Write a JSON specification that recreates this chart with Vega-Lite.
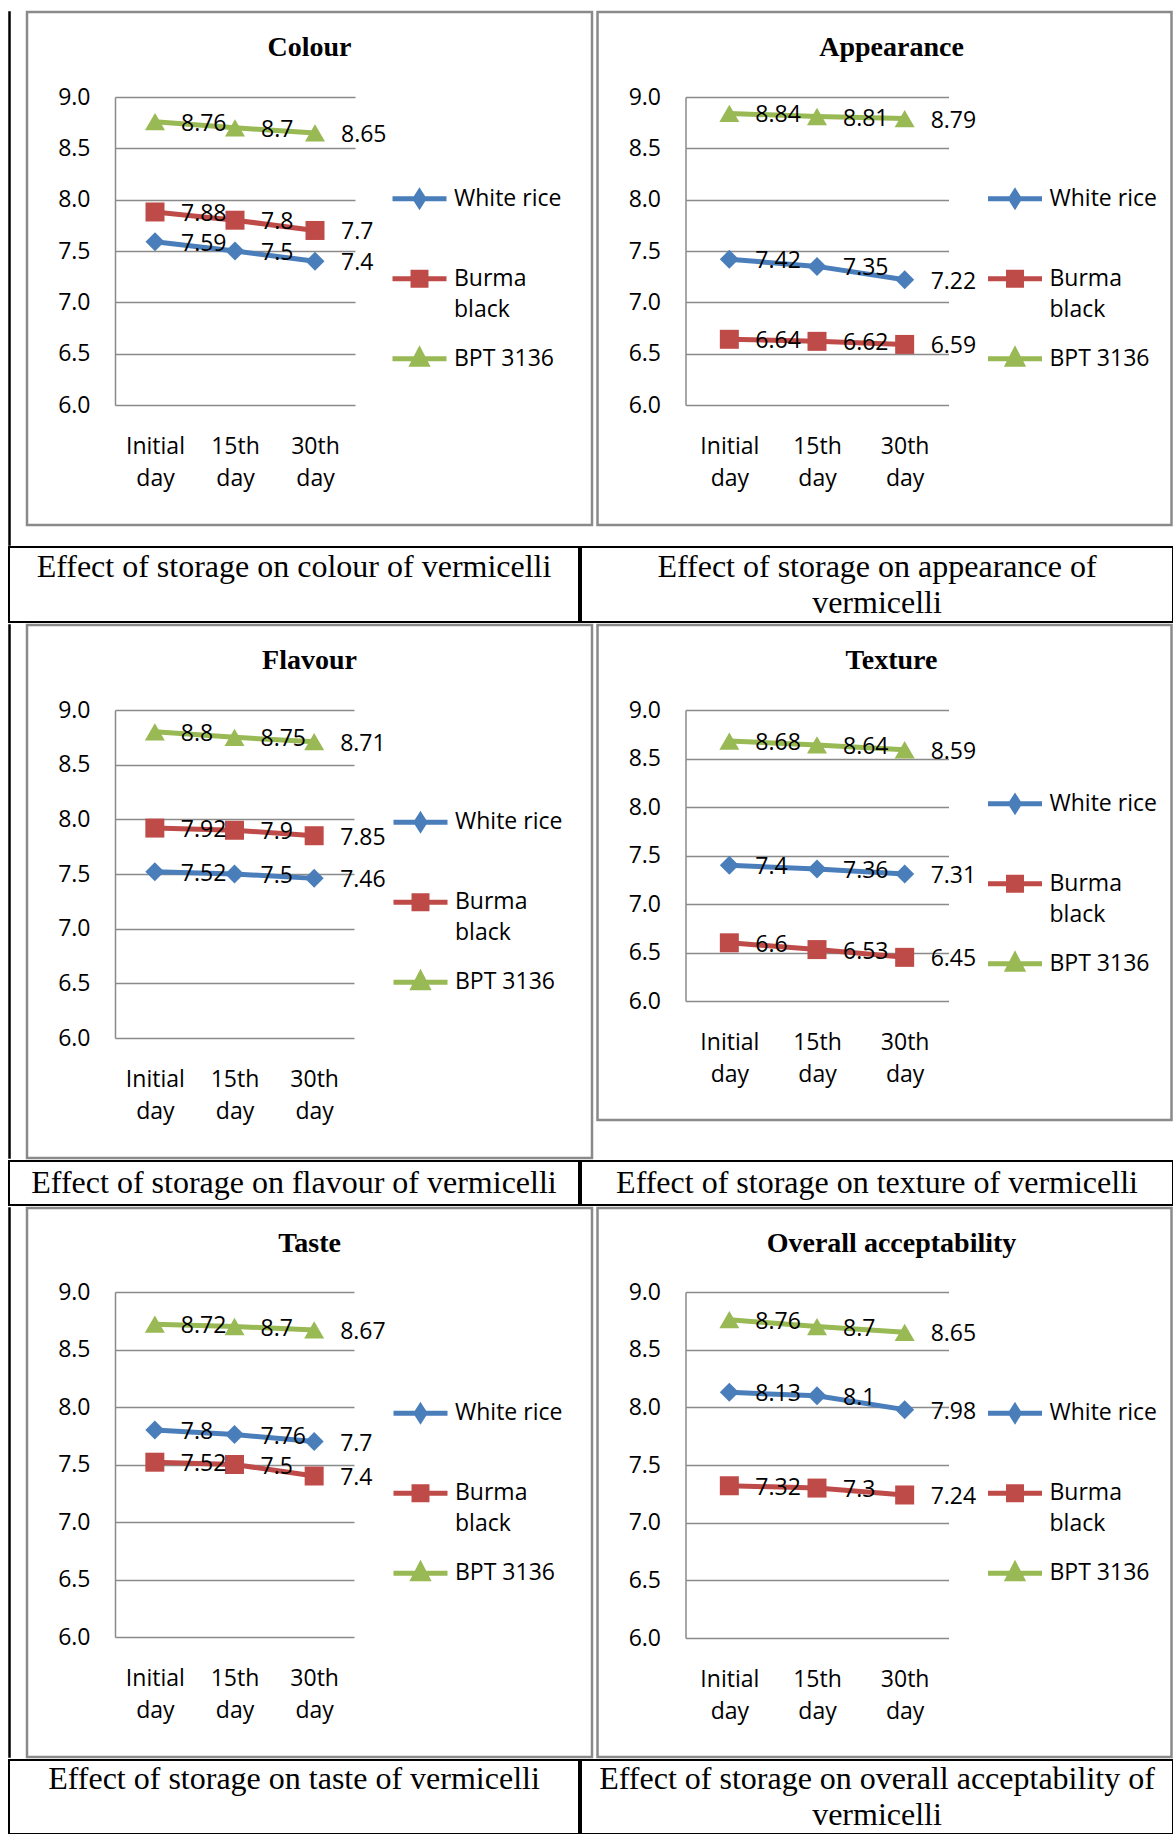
{
  "$schema": "https://vega.github.io/schema/vega-lite/v6.json",
  "padding": {"left": 8, "top": 10, "right": 0, "bottom": 0},
  "background": "white",
  "datasets": {
    "scores": [
      {"panel": "Colour", "series": "White rice", "day": "Initial day", "score": 7.59},
      {"panel": "Colour", "series": "White rice", "day": "15th day", "score": 7.5},
      {"panel": "Colour", "series": "White rice", "day": "30th day", "score": 7.4},
      {"panel": "Colour", "series": "Burma black", "day": "Initial day", "score": 7.88},
      {"panel": "Colour", "series": "Burma black", "day": "15th day", "score": 7.8},
      {"panel": "Colour", "series": "Burma black", "day": "30th day", "score": 7.7},
      {"panel": "Colour", "series": "BPT 3136", "day": "Initial day", "score": 8.76},
      {"panel": "Colour", "series": "BPT 3136", "day": "15th day", "score": 8.7},
      {"panel": "Colour", "series": "BPT 3136", "day": "30th day", "score": 8.65},
      {"panel": "Appearance", "series": "White rice", "day": "Initial day", "score": 7.42},
      {"panel": "Appearance", "series": "White rice", "day": "15th day", "score": 7.35},
      {"panel": "Appearance", "series": "White rice", "day": "30th day", "score": 7.22},
      {"panel": "Appearance", "series": "Burma black", "day": "Initial day", "score": 6.64},
      {"panel": "Appearance", "series": "Burma black", "day": "15th day", "score": 6.62},
      {"panel": "Appearance", "series": "Burma black", "day": "30th day", "score": 6.59},
      {"panel": "Appearance", "series": "BPT 3136", "day": "Initial day", "score": 8.84},
      {"panel": "Appearance", "series": "BPT 3136", "day": "15th day", "score": 8.81},
      {"panel": "Appearance", "series": "BPT 3136", "day": "30th day", "score": 8.79},
      {"panel": "Flavour", "series": "White rice", "day": "Initial day", "score": 7.52},
      {"panel": "Flavour", "series": "White rice", "day": "15th day", "score": 7.5},
      {"panel": "Flavour", "series": "White rice", "day": "30th day", "score": 7.46},
      {"panel": "Flavour", "series": "Burma black", "day": "Initial day", "score": 7.92},
      {"panel": "Flavour", "series": "Burma black", "day": "15th day", "score": 7.9},
      {"panel": "Flavour", "series": "Burma black", "day": "30th day", "score": 7.85},
      {"panel": "Flavour", "series": "BPT 3136", "day": "Initial day", "score": 8.8},
      {"panel": "Flavour", "series": "BPT 3136", "day": "15th day", "score": 8.75},
      {"panel": "Flavour", "series": "BPT 3136", "day": "30th day", "score": 8.71},
      {"panel": "Texture", "series": "White rice", "day": "Initial day", "score": 7.4},
      {"panel": "Texture", "series": "White rice", "day": "15th day", "score": 7.36},
      {"panel": "Texture", "series": "White rice", "day": "30th day", "score": 7.31},
      {"panel": "Texture", "series": "Burma black", "day": "Initial day", "score": 6.6},
      {"panel": "Texture", "series": "Burma black", "day": "15th day", "score": 6.53},
      {"panel": "Texture", "series": "Burma black", "day": "30th day", "score": 6.45},
      {"panel": "Texture", "series": "BPT 3136", "day": "Initial day", "score": 8.68},
      {"panel": "Texture", "series": "BPT 3136", "day": "15th day", "score": 8.64},
      {"panel": "Texture", "series": "BPT 3136", "day": "30th day", "score": 8.59},
      {"panel": "Taste", "series": "White rice", "day": "Initial day", "score": 7.8},
      {"panel": "Taste", "series": "White rice", "day": "15th day", "score": 7.76},
      {"panel": "Taste", "series": "White rice", "day": "30th day", "score": 7.7},
      {"panel": "Taste", "series": "Burma black", "day": "Initial day", "score": 7.52},
      {"panel": "Taste", "series": "Burma black", "day": "15th day", "score": 7.5},
      {"panel": "Taste", "series": "Burma black", "day": "30th day", "score": 7.4},
      {"panel": "Taste", "series": "BPT 3136", "day": "Initial day", "score": 8.72},
      {"panel": "Taste", "series": "BPT 3136", "day": "15th day", "score": 8.7},
      {"panel": "Taste", "series": "BPT 3136", "day": "30th day", "score": 8.67},
      {"panel": "Overall acceptability", "series": "White rice", "day": "Initial day", "score": 8.13},
      {"panel": "Overall acceptability", "series": "White rice", "day": "15th day", "score": 8.1},
      {"panel": "Overall acceptability", "series": "White rice", "day": "30th day", "score": 7.98},
      {"panel": "Overall acceptability", "series": "Burma black", "day": "Initial day", "score": 7.32},
      {"panel": "Overall acceptability", "series": "Burma black", "day": "15th day", "score": 7.3},
      {"panel": "Overall acceptability", "series": "Burma black", "day": "30th day", "score": 7.24},
      {"panel": "Overall acceptability", "series": "BPT 3136", "day": "Initial day", "score": 8.76},
      {"panel": "Overall acceptability", "series": "BPT 3136", "day": "15th day", "score": 8.7},
      {"panel": "Overall acceptability", "series": "BPT 3136", "day": "30th day", "score": 8.65}
    ],
    "captions": [
      {"cell": "c1", "text": "Effect of storage on colour of vermicelli"},
      {"cell": "c2", "text": "Effect of storage on appearance of\nvermicelli"},
      {"cell": "c3", "text": "Effect of storage on flavour of vermicelli"},
      {"cell": "c4", "text": "Effect of storage on texture of vermicelli"},
      {"cell": "c5", "text": "Effect of storage on taste of vermicelli"},
      {"cell": "c6", "text": "Effect of storage on overall acceptability of\nvermicelli"}
    ]
  },
  "spacing": 0,
  "resolve": {"scale": {"color": "independent"}},
  "vconcat": [
    {
      "spacing": 0,
      "resolve": {"scale": {"color": "independent"}},
      "vconcat": [
        {
          "spacing": 14,
          "resolve": {"scale": {"color": "independent"}},
          "hconcat": [
            {"width": 1, "height": 533, "data": {"values": [{}]}, "mark": {"type": "text", "text": ""}, "view": {"stroke": "black", "strokeWidth": 1.5}},
            {
              "spacing": 1.5,
              "resolve": {"scale": {"color": "independent"}},
              "hconcat": [
                {
                  "width": 565, "height": 513,
                  "data": {"name": "scores"},
                  "transform": [{"filter": "datum.panel === 'Colour'"}],
                  "title": {"text": "Colour"},
                  "encoding": {
                    "x": {"field": "day", "type": "nominal", "sort": ["Initial day", "15th day", "30th day"], "scale": {"type": "point", "padding": 0.5, "range": [88, 328]}, "axis": {"orient": "bottom", "offset": -120, "title": null, "domain": false, "ticks": false, "grid": false, "labelAngle": 0, "labelPadding": 30, "labelExpr": "split(datum.label, ' ')", "labelLineHeight": 32}},
                    "y": {"field": "score", "type": "quantitative", "scale": {"domain": [6, 9], "range": [393, 85], "nice": false, "zero": false}, "axis": {"offset": -88, "values": [6, 6.5, 7, 7.5, 8, 8.5, 9], "format": ".1f", "title": null, "ticks": false, "labelPadding": 25, "grid": true}},
                    "color": {"field": "series", "type": "nominal", "scale": {"domain": ["White rice", "Burma black", "BPT 3136"], "range": ["#4A7EBB", "#BE4B48", "#98B954"]},
                      "legend": {"title": null, "orient": "none", "legendX": 363, "legendY": 157.25, "labelExpr": "datum.value === 'Burma black' ? ['Burma', 'black'] : datum.value === 'White rice' ? ['White rice', ''] : datum.label",
                        "encode": {"symbols": {"update": {"shape": {"signal": "datum.value === 'White rice' ? 'M-1,0H1M0,-0.25L0.16,0L0,0.25L-0.16,0Z' : datum.value === 'Burma black' ? 'M-1,0H1M-0.24,-0.24H0.24V0.24H-0.24Z' : 'M-1,0H1M0,-0.3L0.26,0.2L-0.26,0.2Z'"}, "fill": {"signal": "datum.value === 'White rice' ? '#4A7EBB' : datum.value === 'Burma black' ? '#BE4B48' : '#98B954'"}, "stroke": {"signal": "datum.value === 'White rice' ? '#4A7EBB' : datum.value === 'Burma black' ? '#BE4B48' : '#98B954'"}, "strokeWidth": {"value": 5}, "size": {"value": 2916}, "opacity": {"value": 1}, "fillOpacity": {"value": 1}, "strokeOpacity": {"value": 1}}},
                          "labels": {"update": {"lineHeight": {"value": 31}}}}}}
                  },
                  "layer": [
                    {"mark": {"type": "line", "strokeWidth": 5}},
                    {"transform": [{"filter": "datum.series === 'White rice'"}], "mark": {"type": "point", "shape": "diamond", "filled": true, "opacity": 1, "size": 361}},
                    {"transform": [{"filter": "datum.series === 'Burma black'"}], "mark": {"type": "point", "shape": "square", "filled": true, "opacity": 1, "size": 361}},
                    {"transform": [{"filter": "datum.series === 'BPT 3136'"}], "mark": {"type": "point", "shape": "triangle-up", "filled": true, "opacity": 1, "size": 400}},
                    {"mark": {"type": "text", "align": "left", "baseline": "middle", "dx": 26, "dy": 2, "fontSize": 23, "font": "Open Sans"}, "encoding": {"text": {"field": "score", "type": "quantitative", "format": "~g"}, "color": {"value": "black"}}}
                  ]
                },
                {
                  "width": 574, "height": 513,
                  "data": {"name": "scores"},
                  "transform": [{"filter": "datum.panel === 'Appearance'"}],
                  "title": {"text": "Appearance", "dx": 7},
                  "encoding": {
                    "x": {"field": "day", "type": "nominal", "sort": ["Initial day", "15th day", "30th day"], "scale": {"type": "point", "padding": 0.5, "range": [88, 351]}, "axis": {"orient": "bottom", "offset": -120, "title": null, "domain": false, "ticks": false, "grid": false, "labelAngle": 0, "labelPadding": 30, "labelExpr": "split(datum.label, ' ')", "labelLineHeight": 32}},
                    "y": {"field": "score", "type": "quantitative", "scale": {"domain": [6, 9], "range": [393, 85], "nice": false, "zero": false}, "axis": {"offset": -88, "values": [6, 6.5, 7, 7.5, 8, 8.5, 9], "format": ".1f", "title": null, "ticks": false, "labelPadding": 25, "grid": true}},
                    "color": {"field": "series", "type": "nominal", "scale": {"domain": ["White rice", "Burma black", "BPT 3136"], "range": ["#4A7EBB", "#BE4B48", "#98B954"]},
                      "legend": {"title": null, "orient": "none", "legendX": 388, "legendY": 157.25, "labelExpr": "datum.value === 'Burma black' ? ['Burma', 'black'] : datum.value === 'White rice' ? ['White rice', ''] : datum.label",
                        "encode": {"symbols": {"update": {"shape": {"signal": "datum.value === 'White rice' ? 'M-1,0H1M0,-0.25L0.16,0L0,0.25L-0.16,0Z' : datum.value === 'Burma black' ? 'M-1,0H1M-0.24,-0.24H0.24V0.24H-0.24Z' : 'M-1,0H1M0,-0.3L0.26,0.2L-0.26,0.2Z'"}, "fill": {"signal": "datum.value === 'White rice' ? '#4A7EBB' : datum.value === 'Burma black' ? '#BE4B48' : '#98B954'"}, "stroke": {"signal": "datum.value === 'White rice' ? '#4A7EBB' : datum.value === 'Burma black' ? '#BE4B48' : '#98B954'"}, "strokeWidth": {"value": 5}, "size": {"value": 2916}, "opacity": {"value": 1}, "fillOpacity": {"value": 1}, "strokeOpacity": {"value": 1}}},
                          "labels": {"update": {"lineHeight": {"value": 31}}}}}}
                  },
                  "layer": [
                    {"mark": {"type": "line", "strokeWidth": 5}},
                    {"transform": [{"filter": "datum.series === 'White rice'"}], "mark": {"type": "point", "shape": "diamond", "filled": true, "opacity": 1, "size": 361}},
                    {"transform": [{"filter": "datum.series === 'Burma black'"}], "mark": {"type": "point", "shape": "square", "filled": true, "opacity": 1, "size": 361}},
                    {"transform": [{"filter": "datum.series === 'BPT 3136'"}], "mark": {"type": "point", "shape": "triangle-up", "filled": true, "opacity": 1, "size": 400}},
                    {"mark": {"type": "text", "align": "left", "baseline": "middle", "dx": 26, "dy": 2, "fontSize": 23, "font": "Open Sans"}, "encoding": {"text": {"field": "score", "type": "quantitative", "format": "~g"}, "color": {"value": "black"}}}
                  ]
                }
              ]
            }
          ]
        },
        {
          "spacing": 0,
          "hconcat": [
            {"width": 570, "height": 75, "data": {"name": "captions"}, "transform": [{"filter": "datum.cell === 'c1'"}], "mark": {"type": "text", "font": "Liberation Serif", "fontSize": 32, "lineHeight": 36, "lineBreak": "\n", "baseline": "middle", "dy": -18, "color": "black"}, "encoding": {"text": {"field": "text", "type": "nominal"}}, "view": {"stroke": "black", "strokeWidth": 2}},
            {"width": 592, "height": 75, "data": {"name": "captions"}, "transform": [{"filter": "datum.cell === 'c2'"}], "mark": {"type": "text", "font": "Liberation Serif", "fontSize": 32, "lineHeight": 36, "lineBreak": "\n", "baseline": "middle", "dy": -18, "color": "black"}, "encoding": {"text": {"field": "text", "type": "nominal"}}, "view": {"stroke": "black", "strokeWidth": 2}}
          ]
        }
      ]
    },
    {
      "spacing": 14,
      "resolve": {"scale": {"color": "independent"}},
      "hconcat": [
        {"width": 1, "height": 533, "data": {"values": [{}]}, "mark": {"type": "text", "text": ""}, "view": {"stroke": "black", "strokeWidth": 1.5}},
        {
          "spacing": 1.5,
          "resolve": {"scale": {"color": "independent"}},
          "hconcat": [
            {
              "width": 565, "height": 533,
              "data": {"name": "scores"},
              "transform": [{"filter": "datum.panel === 'Flavour'"}],
              "title": {"text": "Flavour"},
              "encoding": {
                "x": {"field": "day", "type": "nominal", "sort": ["Initial day", "15th day", "30th day"], "scale": {"type": "point", "padding": 0.5, "range": [88, 327]}, "axis": {"orient": "bottom", "offset": -120, "title": null, "domain": false, "ticks": false, "grid": false, "labelAngle": 0, "labelPadding": 30, "labelExpr": "split(datum.label, ' ')", "labelLineHeight": 32}},
                "y": {"field": "score", "type": "quantitative", "scale": {"domain": [6, 9], "range": [413, 85], "nice": false, "zero": false}, "axis": {"offset": -88, "values": [6, 6.5, 7, 7.5, 8, 8.5, 9], "format": ".1f", "title": null, "ticks": false, "labelPadding": 25, "grid": true}},
                "color": {"field": "series", "type": "nominal", "scale": {"domain": ["White rice", "Burma black", "BPT 3136"], "range": ["#4A7EBB", "#BE4B48", "#98B954"]},
                  "legend": {"title": null, "orient": "none", "legendX": 364, "legendY": 167.75, "labelExpr": "datum.value === 'Burma black' ? ['Burma', 'black'] : datum.value === 'White rice' ? ['White rice', ''] : datum.label",
                    "encode": {"symbols": {"update": {"shape": {"signal": "datum.value === 'White rice' ? 'M-1,0H1M0,-0.25L0.16,0L0,0.25L-0.16,0Z' : datum.value === 'Burma black' ? 'M-1,0H1M-0.24,-0.24H0.24V0.24H-0.24Z' : 'M-1,0H1M0,-0.3L0.26,0.2L-0.26,0.2Z'"}, "fill": {"signal": "datum.value === 'White rice' ? '#4A7EBB' : datum.value === 'Burma black' ? '#BE4B48' : '#98B954'"}, "stroke": {"signal": "datum.value === 'White rice' ? '#4A7EBB' : datum.value === 'Burma black' ? '#BE4B48' : '#98B954'"}, "strokeWidth": {"value": 5}, "size": {"value": 2916}, "opacity": {"value": 1}, "fillOpacity": {"value": 1}, "strokeOpacity": {"value": 1}}},
                      "labels": {"update": {"lineHeight": {"value": 31}}}}}}
              },
              "layer": [
                {"mark": {"type": "line", "strokeWidth": 5}},
                {"transform": [{"filter": "datum.series === 'White rice'"}], "mark": {"type": "point", "shape": "diamond", "filled": true, "opacity": 1, "size": 361}},
                {"transform": [{"filter": "datum.series === 'Burma black'"}], "mark": {"type": "point", "shape": "square", "filled": true, "opacity": 1, "size": 361}},
                {"transform": [{"filter": "datum.series === 'BPT 3136'"}], "mark": {"type": "point", "shape": "triangle-up", "filled": true, "opacity": 1, "size": 400}},
                {"mark": {"type": "text", "align": "left", "baseline": "middle", "dx": 26, "dy": 2, "fontSize": 23, "font": "Open Sans"}, "encoding": {"text": {"field": "score", "type": "quantitative", "format": "~g"}, "color": {"value": "black"}}}
              ]
            },
            {
              "width": 574, "height": 495,
              "data": {"name": "scores"},
              "transform": [{"filter": "datum.panel === 'Texture'"}],
              "title": {"text": "Texture", "dx": 7},
              "encoding": {
                "x": {"field": "day", "type": "nominal", "sort": ["Initial day", "15th day", "30th day"], "scale": {"type": "point", "padding": 0.5, "range": [88, 351]}, "axis": {"orient": "bottom", "offset": -119, "title": null, "domain": false, "ticks": false, "grid": false, "labelAngle": 0, "labelPadding": 30, "labelExpr": "split(datum.label, ' ')", "labelLineHeight": 32}},
                "y": {"field": "score", "type": "quantitative", "scale": {"domain": [6, 9], "range": [376, 85], "nice": false, "zero": false}, "axis": {"offset": -88, "values": [6, 6.5, 7, 7.5, 8, 8.5, 9], "format": ".1f", "title": null, "ticks": false, "labelPadding": 25, "grid": true}},
                "color": {"field": "series", "type": "nominal", "scale": {"domain": ["White rice", "Burma black", "BPT 3136"], "range": ["#4A7EBB", "#BE4B48", "#98B954"]},
                  "legend": {"title": null, "orient": "none", "legendX": 388, "legendY": 149.35, "labelExpr": "datum.value === 'Burma black' ? ['Burma', 'black'] : datum.value === 'White rice' ? ['White rice', ''] : datum.label",
                    "encode": {"symbols": {"update": {"shape": {"signal": "datum.value === 'White rice' ? 'M-1,0H1M0,-0.25L0.16,0L0,0.25L-0.16,0Z' : datum.value === 'Burma black' ? 'M-1,0H1M-0.24,-0.24H0.24V0.24H-0.24Z' : 'M-1,0H1M0,-0.3L0.26,0.2L-0.26,0.2Z'"}, "fill": {"signal": "datum.value === 'White rice' ? '#4A7EBB' : datum.value === 'Burma black' ? '#BE4B48' : '#98B954'"}, "stroke": {"signal": "datum.value === 'White rice' ? '#4A7EBB' : datum.value === 'Burma black' ? '#BE4B48' : '#98B954'"}, "strokeWidth": {"value": 5}, "size": {"value": 2916}, "opacity": {"value": 1}, "fillOpacity": {"value": 1}, "strokeOpacity": {"value": 1}}},
                      "labels": {"update": {"lineHeight": {"value": 31}}}}}}
              },
              "layer": [
                {"mark": {"type": "line", "strokeWidth": 5}},
                {"transform": [{"filter": "datum.series === 'White rice'"}], "mark": {"type": "point", "shape": "diamond", "filled": true, "opacity": 1, "size": 361}},
                {"transform": [{"filter": "datum.series === 'Burma black'"}], "mark": {"type": "point", "shape": "square", "filled": true, "opacity": 1, "size": 361}},
                {"transform": [{"filter": "datum.series === 'BPT 3136'"}], "mark": {"type": "point", "shape": "triangle-up", "filled": true, "opacity": 1, "size": 400}},
                {"mark": {"type": "text", "align": "left", "baseline": "middle", "dx": 26, "dy": 2, "fontSize": 23, "font": "Open Sans"}, "encoding": {"text": {"field": "score", "type": "quantitative", "format": "~g"}, "color": {"value": "black"}}}
              ]
            }
          ]
        }
      ]
    },
    {
      "spacing": 0,
      "hconcat": [
        {"width": 570, "height": 44, "data": {"name": "captions"}, "transform": [{"filter": "datum.cell === 'c3'"}], "mark": {"type": "text", "font": "Liberation Serif", "fontSize": 32, "lineHeight": 36, "lineBreak": "\n", "baseline": "middle", "color": "black"}, "encoding": {"text": {"field": "text", "type": "nominal"}}, "view": {"stroke": "black", "strokeWidth": 2}},
        {"width": 592, "height": 44, "data": {"name": "captions"}, "transform": [{"filter": "datum.cell === 'c4'"}], "mark": {"type": "text", "font": "Liberation Serif", "fontSize": 32, "lineHeight": 36, "lineBreak": "\n", "baseline": "middle", "color": "black"}, "encoding": {"text": {"field": "text", "type": "nominal"}}, "view": {"stroke": "black", "strokeWidth": 2}}
      ]
    },
    {
      "spacing": 14,
      "resolve": {"scale": {"color": "independent"}},
      "hconcat": [
        {"width": 1, "height": 549, "data": {"values": [{}]}, "mark": {"type": "text", "text": ""}, "view": {"stroke": "black", "strokeWidth": 1.5}},
        {
          "spacing": 1.5,
          "resolve": {"scale": {"color": "independent"}},
          "hconcat": [
            {
              "width": 565, "height": 549,
              "data": {"name": "scores"},
              "transform": [{"filter": "datum.panel === 'Taste'"}],
              "title": {"text": "Taste"},
              "encoding": {
                "x": {"field": "day", "type": "nominal", "sort": ["Initial day", "15th day", "30th day"], "scale": {"type": "point", "padding": 0.5, "range": [88, 327]}, "axis": {"orient": "bottom", "offset": -120, "title": null, "domain": false, "ticks": false, "grid": false, "labelAngle": 0, "labelPadding": 30, "labelExpr": "split(datum.label, ' ')", "labelLineHeight": 32}},
                "y": {"field": "score", "type": "quantitative", "scale": {"domain": [6, 9], "range": [429, 84], "nice": false, "zero": false}, "axis": {"offset": -88, "values": [6, 6.5, 7, 7.5, 8, 8.5, 9], "format": ".1f", "title": null, "ticks": false, "labelPadding": 25, "grid": true}},
                "color": {"field": "series", "type": "nominal", "scale": {"domain": ["White rice", "Burma black", "BPT 3136"], "range": ["#4A7EBB", "#BE4B48", "#98B954"]},
                  "legend": {"title": null, "orient": "none", "legendX": 364, "legendY": 175.75, "labelExpr": "datum.value === 'Burma black' ? ['Burma', 'black'] : datum.value === 'White rice' ? ['White rice', ''] : datum.label",
                    "encode": {"symbols": {"update": {"shape": {"signal": "datum.value === 'White rice' ? 'M-1,0H1M0,-0.25L0.16,0L0,0.25L-0.16,0Z' : datum.value === 'Burma black' ? 'M-1,0H1M-0.24,-0.24H0.24V0.24H-0.24Z' : 'M-1,0H1M0,-0.3L0.26,0.2L-0.26,0.2Z'"}, "fill": {"signal": "datum.value === 'White rice' ? '#4A7EBB' : datum.value === 'Burma black' ? '#BE4B48' : '#98B954'"}, "stroke": {"signal": "datum.value === 'White rice' ? '#4A7EBB' : datum.value === 'Burma black' ? '#BE4B48' : '#98B954'"}, "strokeWidth": {"value": 5}, "size": {"value": 2916}, "opacity": {"value": 1}, "fillOpacity": {"value": 1}, "strokeOpacity": {"value": 1}}},
                      "labels": {"update": {"lineHeight": {"value": 31}}}}}}
              },
              "layer": [
                {"mark": {"type": "line", "strokeWidth": 5}},
                {"transform": [{"filter": "datum.series === 'White rice'"}], "mark": {"type": "point", "shape": "diamond", "filled": true, "opacity": 1, "size": 361}},
                {"transform": [{"filter": "datum.series === 'Burma black'"}], "mark": {"type": "point", "shape": "square", "filled": true, "opacity": 1, "size": 361}},
                {"transform": [{"filter": "datum.series === 'BPT 3136'"}], "mark": {"type": "point", "shape": "triangle-up", "filled": true, "opacity": 1, "size": 400}},
                {"mark": {"type": "text", "align": "left", "baseline": "middle", "dx": 26, "dy": 2, "fontSize": 23, "font": "Open Sans"}, "encoding": {"text": {"field": "score", "type": "quantitative", "format": "~g"}, "color": {"value": "black"}}}
              ]
            },
            {
              "width": 574, "height": 549,
              "data": {"name": "scores"},
              "transform": [{"filter": "datum.panel === 'Overall acceptability'"}],
              "title": {"text": "Overall acceptability", "dx": 7},
              "encoding": {
                "x": {"field": "day", "type": "nominal", "sort": ["Initial day", "15th day", "30th day"], "scale": {"type": "point", "padding": 0.5, "range": [88, 351]}, "axis": {"orient": "bottom", "offset": -119, "title": null, "domain": false, "ticks": false, "grid": false, "labelAngle": 0, "labelPadding": 30, "labelExpr": "split(datum.label, ' ')", "labelLineHeight": 32}},
                "y": {"field": "score", "type": "quantitative", "scale": {"domain": [6, 9], "range": [430, 84], "nice": false, "zero": false}, "axis": {"offset": -88, "values": [6, 6.5, 7, 7.5, 8, 8.5, 9], "format": ".1f", "title": null, "ticks": false, "labelPadding": 25, "grid": true}},
                "color": {"field": "series", "type": "nominal", "scale": {"domain": ["White rice", "Burma black", "BPT 3136"], "range": ["#4A7EBB", "#BE4B48", "#98B954"]},
                  "legend": {"title": null, "orient": "none", "legendX": 388, "legendY": 175.75, "labelExpr": "datum.value === 'Burma black' ? ['Burma', 'black'] : datum.value === 'White rice' ? ['White rice', ''] : datum.label",
                    "encode": {"symbols": {"update": {"shape": {"signal": "datum.value === 'White rice' ? 'M-1,0H1M0,-0.25L0.16,0L0,0.25L-0.16,0Z' : datum.value === 'Burma black' ? 'M-1,0H1M-0.24,-0.24H0.24V0.24H-0.24Z' : 'M-1,0H1M0,-0.3L0.26,0.2L-0.26,0.2Z'"}, "fill": {"signal": "datum.value === 'White rice' ? '#4A7EBB' : datum.value === 'Burma black' ? '#BE4B48' : '#98B954'"}, "stroke": {"signal": "datum.value === 'White rice' ? '#4A7EBB' : datum.value === 'Burma black' ? '#BE4B48' : '#98B954'"}, "strokeWidth": {"value": 5}, "size": {"value": 2916}, "opacity": {"value": 1}, "fillOpacity": {"value": 1}, "strokeOpacity": {"value": 1}}},
                      "labels": {"update": {"lineHeight": {"value": 31}}}}}}
              },
              "layer": [
                {"mark": {"type": "line", "strokeWidth": 5}},
                {"transform": [{"filter": "datum.series === 'White rice'"}], "mark": {"type": "point", "shape": "diamond", "filled": true, "opacity": 1, "size": 361}},
                {"transform": [{"filter": "datum.series === 'Burma black'"}], "mark": {"type": "point", "shape": "square", "filled": true, "opacity": 1, "size": 361}},
                {"transform": [{"filter": "datum.series === 'BPT 3136'"}], "mark": {"type": "point", "shape": "triangle-up", "filled": true, "opacity": 1, "size": 400}},
                {"mark": {"type": "text", "align": "left", "baseline": "middle", "dx": 26, "dy": 2, "fontSize": 23, "font": "Open Sans"}, "encoding": {"text": {"field": "score", "type": "quantitative", "format": "~g"}, "color": {"value": "black"}}}
              ]
            }
          ]
        }
      ]
    },
    {
      "spacing": 0,
      "hconcat": [
        {"width": 570, "height": 74, "data": {"name": "captions"}, "transform": [{"filter": "datum.cell === 'c5'"}], "mark": {"type": "text", "font": "Liberation Serif", "fontSize": 32, "lineHeight": 36, "lineBreak": "\n", "baseline": "middle", "dy": -18, "color": "black"}, "encoding": {"text": {"field": "text", "type": "nominal"}}, "view": {"stroke": "black", "strokeWidth": 2}},
        {"width": 592, "height": 74, "data": {"name": "captions"}, "transform": [{"filter": "datum.cell === 'c6'"}], "mark": {"type": "text", "font": "Liberation Serif", "fontSize": 32, "lineHeight": 36, "lineBreak": "\n", "baseline": "middle", "dy": -18, "color": "black"}, "encoding": {"text": {"field": "text", "type": "nominal"}}, "view": {"stroke": "black", "strokeWidth": 2}}
      ]
    }
  ],
  "config": {
    "font": "Open Sans",
    "view": {"stroke": "#8a8a8a", "strokeWidth": 2.5},
    "axis": {"labelFont": "Open Sans", "labelFontSize": 23, "labelColor": "#000000", "gridColor": "#8a8a8a", "gridWidth": 1.5, "gridOpacity": 1, "domainColor": "#8a8a8a", "domainWidth": 1.5, "labelOverlap": false},
    "legend": {"labelFont": "Open Sans", "labelFontSize": 23, "labelColor": "#000000", "labelLimit": 300, "padding": 0, "labelOffset": 5, "symbolSize": 2916, "rowPadding": 7},
    "title": {"font": "Liberation Serif", "fontSize": 28, "fontWeight": "bold", "color": "#000000", "anchor": "middle", "baseline": "middle", "offset": -50}
  }
}
